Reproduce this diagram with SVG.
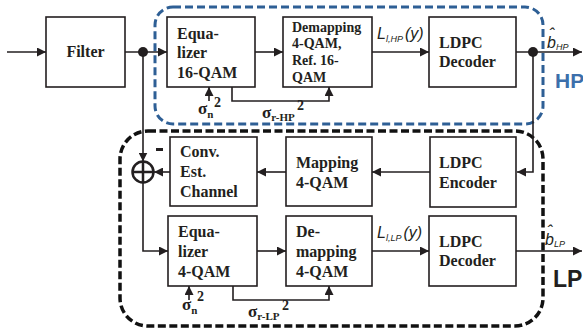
<svg xmlns="http://www.w3.org/2000/svg" width="583" height="329" viewBox="0 0 583 329">
<style>
.box{fill:#fff;stroke:#231f20;stroke-width:1.6}
.ln{fill:none;stroke:#231f20;stroke-width:1.6}
.t{font-family:"Liberation Serif","Times New Roman",serif;font-weight:bold;font-size:16px;fill:#231f20}
.ts{font-family:"Liberation Serif","Times New Roman",serif;font-weight:bold;font-size:14px;fill:#231f20}
.m{font-family:"Liberation Sans",Arial,sans-serif;font-style:italic;font-size:16px;fill:#231f20}
.sg{font-family:"Liberation Serif","Times New Roman",serif;font-weight:bold;font-size:17px;fill:#231f20}
</style>
<defs>
<marker id="ah" markerUnits="userSpaceOnUse" markerWidth="10" markerHeight="9" refX="9" refY="4.5" orient="auto">
<path d="M0,0 L9,4.5 L0,9 z" fill="#231f20"/>
</marker>
</defs>
<rect x="155" y="7" width="388" height="117" rx="18" fill="none" stroke="#2e5f95" stroke-width="3" stroke-dasharray="8 4"/>
<rect x="120" y="131" width="423" height="195" rx="28" fill="none" stroke="#111" stroke-width="3.5" stroke-dasharray="8 3.5"/>
<g id="connectors">
<path class="ln" d="M7,52 H46" marker-end="url(#ah)"/>
<path class="ln" d="M125,52 H167" marker-end="url(#ah)"/>
<path class="ln" d="M143,52 V161.5" marker-end="url(#ah)"/>
<path class="ln" d="M170,172 H154" marker-end="url(#ah)"/>
<path class="ln" d="M143,183 V251 H168" marker-end="url(#ah)"/>
<path class="ln" d="M255,52 H283" marker-end="url(#ah)"/>
<path class="ln" d="M372,52 H429" marker-end="url(#ah)"/>
<path class="ln" d="M516,52 H582" marker-end="url(#ah)"/>
<path class="ln" d="M533,52 V172 H517" marker-end="url(#ah)"/>
<path class="ln" d="M430,172 H372" marker-end="url(#ah)"/>
<path class="ln" d="M286,172 H257" marker-end="url(#ah)"/>
<path class="ln" d="M257,251 H286" marker-end="url(#ah)"/>
<path class="ln" d="M372,251 H429" marker-end="url(#ah)"/>
<path class="ln" d="M516,251 H582" marker-end="url(#ah)"/>
<path class="ln" d="M209,101 V87" marker-end="url(#ah)"/>
<path class="ln" d="M232,87 V101 H329 V87" marker-end="url(#ah)"/>
<path class="ln" d="M189,300 V286" marker-end="url(#ah)"/>
<path class="ln" d="M233,286 V300 H329 V286" marker-end="url(#ah)"/>
<circle cx="143" cy="52" r="5" fill="#231f20"/>
<circle cx="533" cy="52" r="5" fill="#231f20"/>
</g>
<g id="adder">
<circle cx="143" cy="172" r="10.5" fill="none" stroke="#231f20" stroke-width="2.5"/>
<path d="M132.5,172 H153.5 M143,161.5 V182.5" stroke="#231f20" stroke-width="2.5"/>
<rect x="156" y="148" width="7" height="3" fill="#231f20"/>
</g>
<g id="filter">
<rect class="box" x="46" y="17" width="79" height="70"/>
<text class="t" x="85.5" y="57" text-anchor="middle">Filter</text>
</g>
<g id="eq16">
<rect class="box" x="167" y="17" width="88" height="70"/>
<text class="t" x="177" y="39">Equa-</text>
<text class="t" x="177" y="58">lizer</text>
<text class="t" x="177" y="78">16-QAM</text>
</g>
<g id="demap16">
<rect class="box" x="283" y="17" width="89" height="70"/>
<text class="ts" x="292" y="32">Demapping</text>
<text class="ts" x="292" y="48">4-QAM,</text>
<text class="ts" x="292" y="65">Ref. 16-</text>
<text class="ts" x="292" y="82">QAM</text>
</g>
<g id="ldpcdecHP">
<rect class="box" x="429" y="17" width="87" height="70"/>
<text class="t" x="439" y="48">LDPC</text>
<text class="t" x="439" y="67">Decoder</text>
</g>
<g id="ldpcenc">
<rect class="box" x="430" y="137" width="86" height="70"/>
<text class="t" x="439" y="168">LDPC</text>
<text class="t" x="439" y="188">Encoder</text>
</g>
<g id="mapping">
<rect class="box" x="286" y="137" width="86" height="69"/>
<text class="t" x="296" y="168">Mapping</text>
<text class="t" x="296" y="188">4-QAM</text>
</g>
<g id="conv">
<rect class="box" x="170" y="137" width="87" height="69"/>
<text class="t" x="180" y="157">Conv.</text>
<text class="t" x="180" y="177">Est.</text>
<text class="t" x="180" y="197">Channel</text>
</g>
<g id="eq4">
<rect class="box" x="168" y="216" width="89" height="70"/>
<text class="t" x="178" y="237">Equa-</text>
<text class="t" x="178" y="257">lizer</text>
<text class="t" x="178" y="277">4-QAM</text>
</g>
<g id="demap4">
<rect class="box" x="286" y="216" width="86" height="70"/>
<text class="t" x="296" y="237">De-</text>
<text class="t" x="296" y="257">mapping</text>
<text class="t" x="296" y="277">4-QAM</text>
</g>
<g id="ldpcdecLP">
<rect class="box" x="429" y="216" width="87" height="70"/>
<text class="t" x="439" y="247">LDPC</text>
<text class="t" x="439" y="266">Decoder</text>
</g>
<g id="labels">
<text class="m" x="377" y="39">L<tspan font-size="9" dy="3">l,HP</tspan><tspan dy="-3" dx="2">(y)</tspan></text>
<text class="m" x="377" y="238">L<tspan font-size="9" dy="3">l,LP</tspan><tspan dy="-3" dx="2">(y)</tspan></text>
<text class="m" x="547" y="48">b<tspan font-size="9" dy="2">HP</tspan></text>
<text class="m" x="549" y="40">ˆ</text>
<text class="m" x="545" y="245">b<tspan font-size="9" dy="2">LP</tspan></text>
<text class="m" x="547" y="237">ˆ</text>
<text x="555" y="88" font-family="'Liberation Sans',Arial,sans-serif" font-weight="bold" font-size="21" fill="#3c6fab">HP</text>
<text x="553" y="287" font-family="'Liberation Sans',Arial,sans-serif" font-weight="bold" font-size="23" fill="#231f20">LP</text>
<text class="sg" x="198" y="114">σ<tspan font-size="11" dy="4">n</tspan></text>
<text class="ts" x="214" y="107" font-size="12">2</text>
<text class="sg" x="262" y="118">σ<tspan font-size="11" dy="3">r-HP</tspan></text>
<text class="ts" x="297" y="110" font-size="12">2</text>
<text class="sg" x="182" y="310">σ<tspan font-size="11" dy="4">n</tspan></text>
<text class="ts" x="197" y="301" font-size="12">2</text>
<text class="sg" x="248" y="317">σ<tspan font-size="11" dy="3">r-LP</tspan></text>
<text class="ts" x="282" y="310" font-size="12">2</text>
</g>
</svg>
